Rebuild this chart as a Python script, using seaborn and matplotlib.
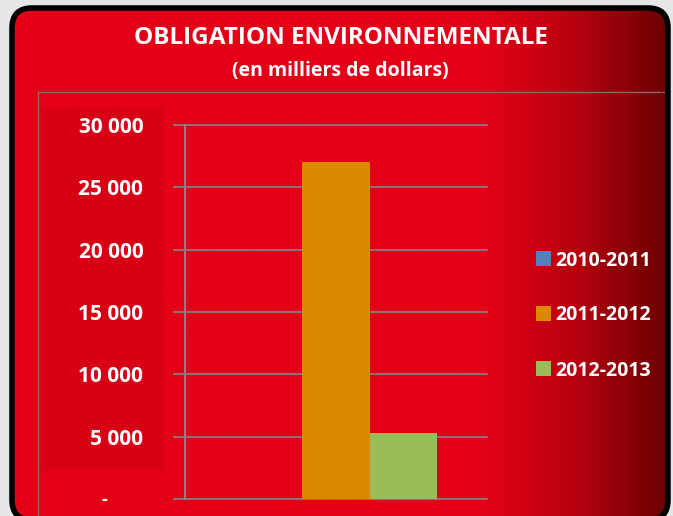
import numpy as np
import pandas as pd
import matplotlib
matplotlib.use("Agg")
import matplotlib.pyplot as plt
from matplotlib.patches import FancyBboxPatch, Rectangle
from matplotlib.colors import LinearSegmentedColormap
import seaborn as sns

# data
seasons = ["2010-2011", "2011-2012", "2012-2013"]
values = [0, 27000, 5300]
colors = ["#4f81bd", "#db8a00", "#9bbb59"]
yticks = [0, 5000, 10000, 15000, 20000, 25000, 30000]
ytick_labels = ["", "5 000", "10 000", "15 000", "20 000", "25 000", "30 000"]
zero_label = "-"

df = pd.DataFrame({"groupe": [""] * len(seasons), "saison": seasons, "valeur": values})

sns.set_theme(style="white")
plt.rcParams["font.family"] = ["Open Sans", "DejaVu Sans"]

W, H = 673, 516
fig = plt.figure(figsize=(W / 100, H / 100), dpi=100)
fig.patch.set_facecolor("#e6e6e6")

# background layer in pixel coordinates (y measured from the top)
bg = fig.add_axes([0, 0, 1, 1])
bg.set_xlim(0, W)
bg.set_ylim(0, H)
bg.axis("off")


def py(y):
    return H - y


# rounded box with red gradient to dark red on the right
box = FancyBboxPatch((12, py(520)), 656, 512, boxstyle="round,pad=0,rounding_size=20",
                     facecolor="none", edgecolor="black", linewidth=4, zorder=3)
bg.add_patch(box)
cmap = LinearSegmentedColormap.from_list(
    "rouge", [(0, "#e30016"), (0.72, "#e30016"), (0.86, "#b8000f"), (1, "#6a0000")])
grad = np.linspace(0, 1, 400).reshape(1, -1)
im = bg.imshow(grad, cmap=cmap, extent=[12, 668, py(520), py(8)], aspect="auto", zorder=1)
im.set_clip_path(box)
# slightly darker panel behind the tick labels
bg.add_patch(Rectangle((42, py(470)), 121, 362, facecolor="#cc0014", edgecolor="none",
                       alpha=0.5, zorder=2))
# thin chart-area border lines
bg.plot([38, 38], [py(92), py(520)], color="#8a6a6a", lw=1, zorder=2)
bg.plot([38, 666], [py(92), py(92)], color="#8a6a6a", lw=1, zorder=2)
bg.plot([661, 661], [py(92), py(520)], color="#7a0000", lw=1, alpha=0.6, zorder=2)

bg.text(341, py(38), "OBLIGATION ENVIRONNEMENTALE", color="white", fontsize=17.5,
        fontweight="bold", ha="center", va="center", zorder=4)
bg.text(340, py(71), "(en milliers de dollars)", color="white", fontsize=14,
        fontweight="bold", ha="center", va="center", zorder=4)
bg.text(104, py(500), zero_label, color="white", fontsize=13, fontweight="bold",
        ha="center", va="center", zorder=4)

# main plot
ax = fig.add_axes([185 / W, 1 - 499 / H, (487 - 185) / W, (499 - 125) / H])
ax.patch.set_alpha(0)
sns.barplot(data=df, x="groupe", y="valeur", hue="saison", palette=colors,
            width=0.67, saturation=1, linewidth=0, edgecolor="none", ax=ax, zorder=3)
ax.set_ylim(0, 30000)
ax.set_xlim(-0.5, 0.5)
ax.set_yticks(yticks)
ax.set_yticklabels(ytick_labels)
ax.set_xticks([])
ax.set_xlabel("")
ax.set_ylabel("")
for y in yticks:
    ax.axhline(y, color="#8c6f78", lw=1.5, zorder=1, clip_on=False)
for s in ["top", "right", "bottom"]:
    ax.spines[s].set_visible(False)
ax.spines["left"].set_color("#8c8080")
ax.spines["left"].set_linewidth(1.5)
ax.tick_params(axis="y", length=9, width=1.5, color="#8c6f78", pad=21,
               labelsize=15, labelcolor="white", left=True)
for lab in ax.get_yticklabels():
    lab.set_fontweight("bold")

leg = ax.get_legend()
handles = leg.legend_handles
leg.remove()
lg = fig.legend(handles, seasons, loc="upper left", bbox_to_anchor=(518 / W, 1 - 233 / H),
                frameon=False, handlelength=0.8, handleheight=0.8, handletextpad=0.2,
                labelspacing=1.8, prop={"weight": "bold", "size": 14})
for t in lg.get_texts():
    t.set_color("white")

fig.savefig("out.png", dpi=100, facecolor=fig.get_facecolor())
